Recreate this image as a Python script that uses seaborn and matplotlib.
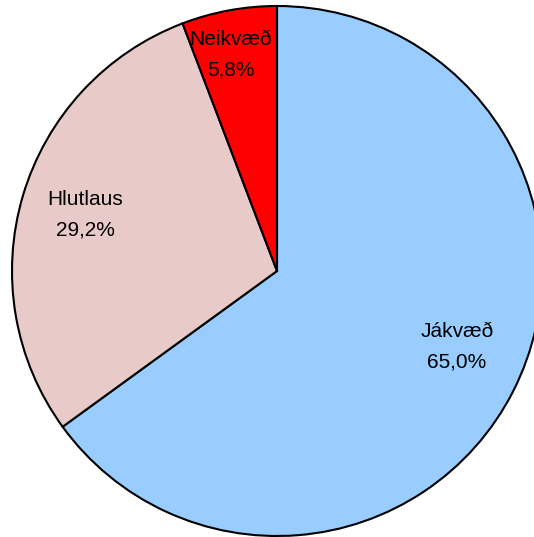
import matplotlib
matplotlib.use("Agg")
import matplotlib.pyplot as plt
import seaborn as sns
import numpy as np

sns.set_theme(style="white")
plt.rcParams["font.family"] = ["Liberation Sans", "DejaVu Sans"]

categories = ["Jákvæð", "Hlutlaus", "Neikvæð"]
shares = [65.0, 29.2, 5.8]
colors = ["#99CCFF", "#E8CBC9", "#FF0000"]
# label placement in axes data units (pie radius = 1)
label_pos = [(0.679, -0.287), (-0.723, 0.213), (-0.174, 0.815)]

fig = plt.figure(figsize=(5.34, 5.37), dpi=100)
ax = fig.add_axes([12 / 534, 1 / 537, 530 / 534, 530 / 537])

wedges, _ = ax.pie(
    shares,
    colors=colors,
    startangle=90,
    counterclock=False,
    radius=1.0,
    wedgeprops=dict(edgecolor="black", linewidth=1.5),
)

for name, val, (x, y) in zip(categories, shares, label_pos):
    txt = f"{name}\n{val:.1f}%".replace(".", ",")
    ax.text(x, y, txt, ha="center", va="center", fontsize=15,
            linespacing=1.75, color="black")

ax.set_xlim(-1, 1)
ax.set_ylim(-1, 1)
ax.set_aspect("equal")
ax.axis("off")

fig.savefig("out.png", dpi=100)
